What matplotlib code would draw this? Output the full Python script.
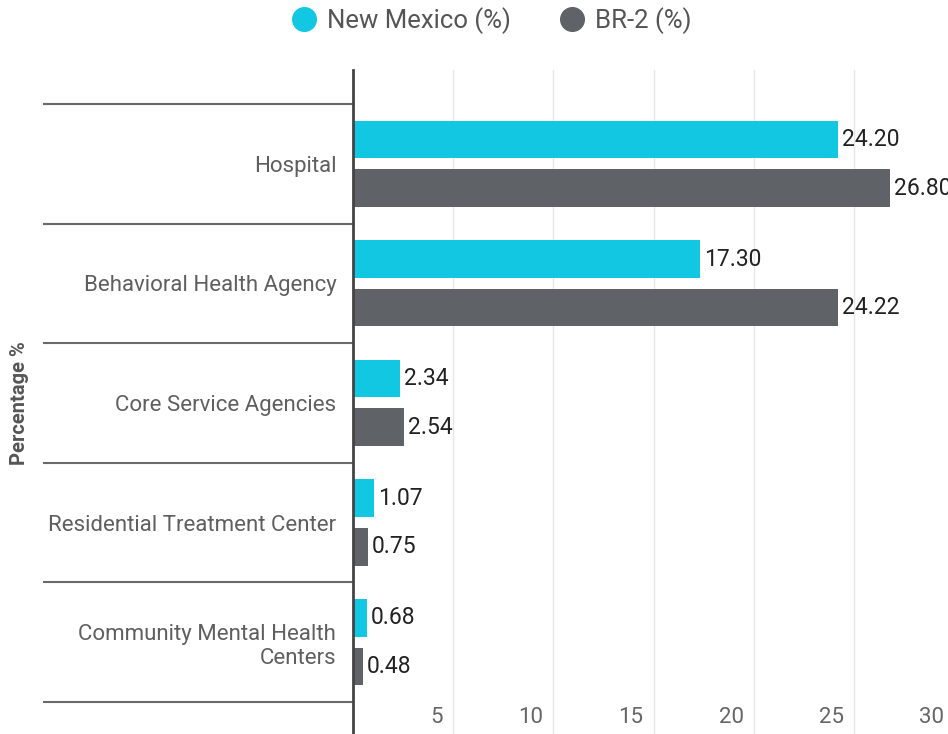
import matplotlib.pyplot as plt
import matplotlib.transforms as mtransforms
import numpy as np

plt.rcParams['font.family'] = ['Roboto', 'DejaVu Sans']

categories = ["Hospital", "Behavioral Health Agency", "Core Service Agencies",
              "Residential Treatment Center", "Community Mental Health\nCenters"]
new_mexico = [24.20, 17.30, 2.34, 1.07, 0.68]
br2 = [26.80, 24.22, 2.54, 0.75, 0.48]
x_ticks = [5, 10, 15, 20, 25, 30]

cyan = "#12c7e1"
grey = "#5f6267"

fig = plt.figure(figsize=(9.48, 7.34), dpi=100, facecolor='w')
ax = fig.add_axes([353 / 948, 0.0, 601 / 948, 1 - 70 / 734])

y = np.arange(len(categories))
h = 0.314
off = 0.203
ax.barh(y - off, new_mexico, height=h, color=cyan, label="New Mexico (%)", zorder=3)
ax.barh(y + off, br2, height=h, color=grey, label="BR-2 (%)", zorder=3)

for i in range(len(categories)):
    ax.text(new_mexico[i] + 0.2, y[i] - off, "%.2f" % new_mexico[i], va='center',
            ha='left', fontsize=16.5, color="#222222", clip_on=False)
    ax.text(br2[i] + 0.2, y[i] + off, "%.2f" % br2[i], va='center',
            ha='left', fontsize=16.5, color="#222222", clip_on=False)

ax.set_xlim(0, 30)
ax.set_ylim(4.5 + 0.268, -0.5 - 0.284)

# category labels and long separator ticks
ax.set_yticks(y)
ax.set_yticklabels(categories, fontsize=16, color="#5f5f5f", ha='right')
ax.set_yticks(np.arange(-0.5, len(categories)), minor=True)
ax.tick_params(axis='y', which='major', length=0, pad=12)
ax.tick_params(axis='y', which='minor', length=223, width=1.5, color="#6a6a6a")

# x tick labels sit inside the plot, right-aligned just left of each gridline
ax.set_xticks(x_ticks)
ax.tick_params(axis='x', length=0, labelbottom=False)
trans = mtransforms.blended_transform_factory(ax.transData, ax.transAxes) + \
    mtransforms.ScaledTranslation(-10 / 100, 6 / 100, fig.dpi_scale_trans)
for t in x_ticks:
    ax.text(t, 0, str(t), transform=trans, ha='right', va='bottom',
            fontsize=16, color="#666666", clip_on=False)

ax.grid(True, axis='x', color="#e6e6e6", linewidth=1, zorder=0)
for s in ['top', 'right', 'bottom']:
    ax.spines[s].set_visible(False)
ax.spines['left'].set_color("#444444")
ax.spines['left'].set_linewidth(2)
ax.spines['left'].set_zorder(4)

fig.text(20 / 948, 1 - 403 / 734, "Percentage %", rotation=90, va='center', ha='center',
         fontsize=14.5, fontweight='bold', color="#555555")

leg = fig.legend(handles=[plt.Line2D([], [], marker='o', linestyle='', markersize=17, color=cyan),
                          plt.Line2D([], [], marker='o', linestyle='', markersize=17, color=grey)],
                 labels=["New Mexico (%)", "BR-2 (%)"], loc='center', ncol=2,
                 bbox_to_anchor=(490 / 948, 1 - 21 / 734), frameon=False, fontsize=18.5,
                 handletextpad=0.3, columnspacing=1.8, handlelength=1.2)
for t in leg.get_texts():
    t.set_color("#555555")

plt.savefig("out.png")
